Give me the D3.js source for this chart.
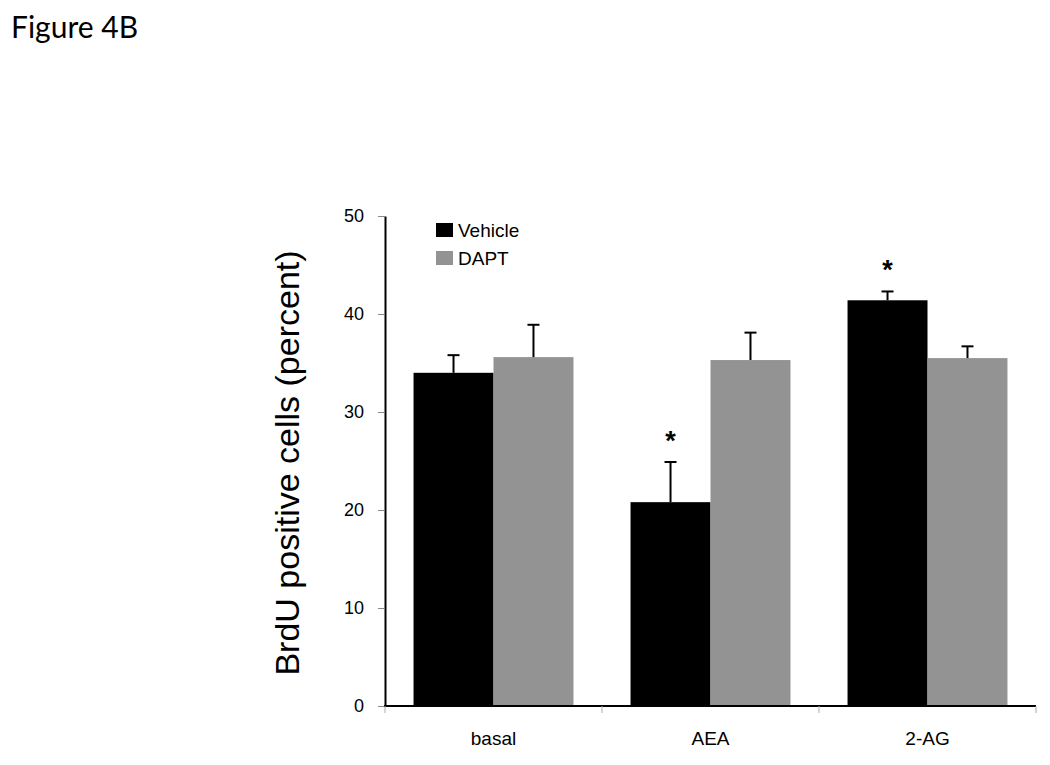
<!DOCTYPE html>
<html><head><meta charset="utf-8">
<script src="https://cdn.jsdelivr.net/npm/d3@7"></script>
<style>body{margin:0;background:#fff}svg{display:block}</style>
</head><body>
<svg id="c" width="1050" height="765"></svg>
<script>
const categories = ["basal", "AEA", "2-AG"];
const seriesNames = ["Vehicle", "DAPT"];
const vehicle = [34.0, 20.8, 41.4];
const vehicleErr = [1.8, 4.1, 0.9];
const dapt = [35.6, 35.3, 35.5];
const daptErr = [3.3, 2.8, 1.2];
const significant = [false, true, true];
const yTicks = [0, 10, 20, 30, 40, 50];
const colors = ["#000000", "#939393"];

const svg = d3.select("#c");
const x = d3.scaleBand().domain(categories).range([385, 1036]).paddingInner(0.263).paddingOuter(0.1315);
const xs = d3.scaleBand().domain(seriesNames).range([0, x.bandwidth()]);
const y = d3.scaleLinear().domain([0, 50]).range([706, 216]);
const sans = "'Liberation Sans', Arial, Helvetica, sans-serif";

svg.append("text").attr("x", 11).attr("y", 38).attr("font-family", "Lato, 'Open Sans', sans-serif")
  .attr("font-size", 30).attr("fill", "#000").text("Figure 4B");

const series = [{name: seriesNames[0], vals: vehicle, err: vehicleErr}, {name: seriesNames[1], vals: dapt, err: daptErr}];

// bars
series.forEach((s, si) => {
  const g = svg.append("g");
  g.selectAll("rect").data(categories).join("rect")
    .attr("x", c => x(c) + xs(s.name))
    .attr("y", (c, i) => y(s.vals[i]))
    .attr("width", xs.bandwidth())
    .attr("height", (c, i) => y(0) - y(s.vals[i]))
    .attr("fill", colors[si]);
  // error bars (upper only)
  categories.forEach((c, i) => {
    const cx = x(c) + xs(s.name) + xs.bandwidth() / 2;
    g.append("line").attr("x1", cx).attr("x2", cx).attr("y1", y(s.vals[i])).attr("y2", y(s.vals[i] + s.err[i]))
      .attr("stroke", "#000").attr("stroke-width", 2);
    g.append("line").attr("x1", cx - 6).attr("x2", cx + 6).attr("y1", y(s.vals[i] + s.err[i])).attr("y2", y(s.vals[i] + s.err[i]))
      .attr("stroke", "#000").attr("stroke-width", 2);
  });
});

// significance stars
categories.forEach((c, i) => {
  if (!significant[i]) return;
  const cx = x(c) + xs(seriesNames[0]) + xs.bandwidth() / 2;
  svg.append("text").attr("x", cx).attr("y", y(vehicle[i] + vehicleErr[i]) - 12)
    .attr("text-anchor", "middle").attr("font-family", sans)
    .attr("font-size", 27).attr("font-weight", "bold").text("*");
});

// y axis
const ya = svg.append("g").attr("transform", "translate(385,0)")
  .call(d3.axisLeft(y).tickValues(yTicks).tickSize(7).tickSizeOuter(0).tickPadding(14));
ya.select(".domain").attr("stroke", "#000").attr("stroke-width", 2);
ya.selectAll(".tick line").attr("stroke", "#888").attr("stroke-width", 1);
ya.selectAll(".tick text").attr("font-family", sans).attr("font-size", 18).attr("fill", "#000");

// x axis
const step = x.step();
const xa = svg.append("g");
xa.append("line").attr("x1", x.range()[0] - 1).attr("x2", x.range()[1]).attr("y1", y(0)).attr("y2", y(0))
  .attr("stroke", "#000").attr("stroke-width", 2);
const bounds = categories.map(c => x(c) - step * x.paddingInner() / 2).concat([x.range()[1]]);
xa.selectAll(".xt").data(bounds).join("line").attr("class", "xt")
  .attr("x1", d => d).attr("x2", d => d).attr("y1", y(0)).attr("y2", y(0) + 7)
  .attr("stroke", "#aaa").attr("stroke-width", 1);
xa.selectAll(".xl").data(categories).join("text").attr("class", "xl")
  .attr("x", c => x(c) + x.bandwidth() / 2).attr("y", 745).attr("text-anchor", "middle")
  .attr("font-family", sans).attr("font-size", 19).text(c => c);

// y label
svg.append("text").attr("transform", "translate(299,463) rotate(-90)").attr("text-anchor", "middle")
  .attr("font-family", sans).attr("font-size", 34).text("BrdU positive cells (percent)");

// legend
seriesNames.forEach((n, i) => {
  svg.append("rect").attr("x", 436).attr("y", 223 + i * 28).attr("width", 17).attr("height", 14).attr("fill", colors[i]);
  svg.append("text").attr("x", 458).attr("y", 237 + i * 28).attr("font-family", sans)
    .attr("font-size", 19).text(n);
});
</script>
</body></html>
